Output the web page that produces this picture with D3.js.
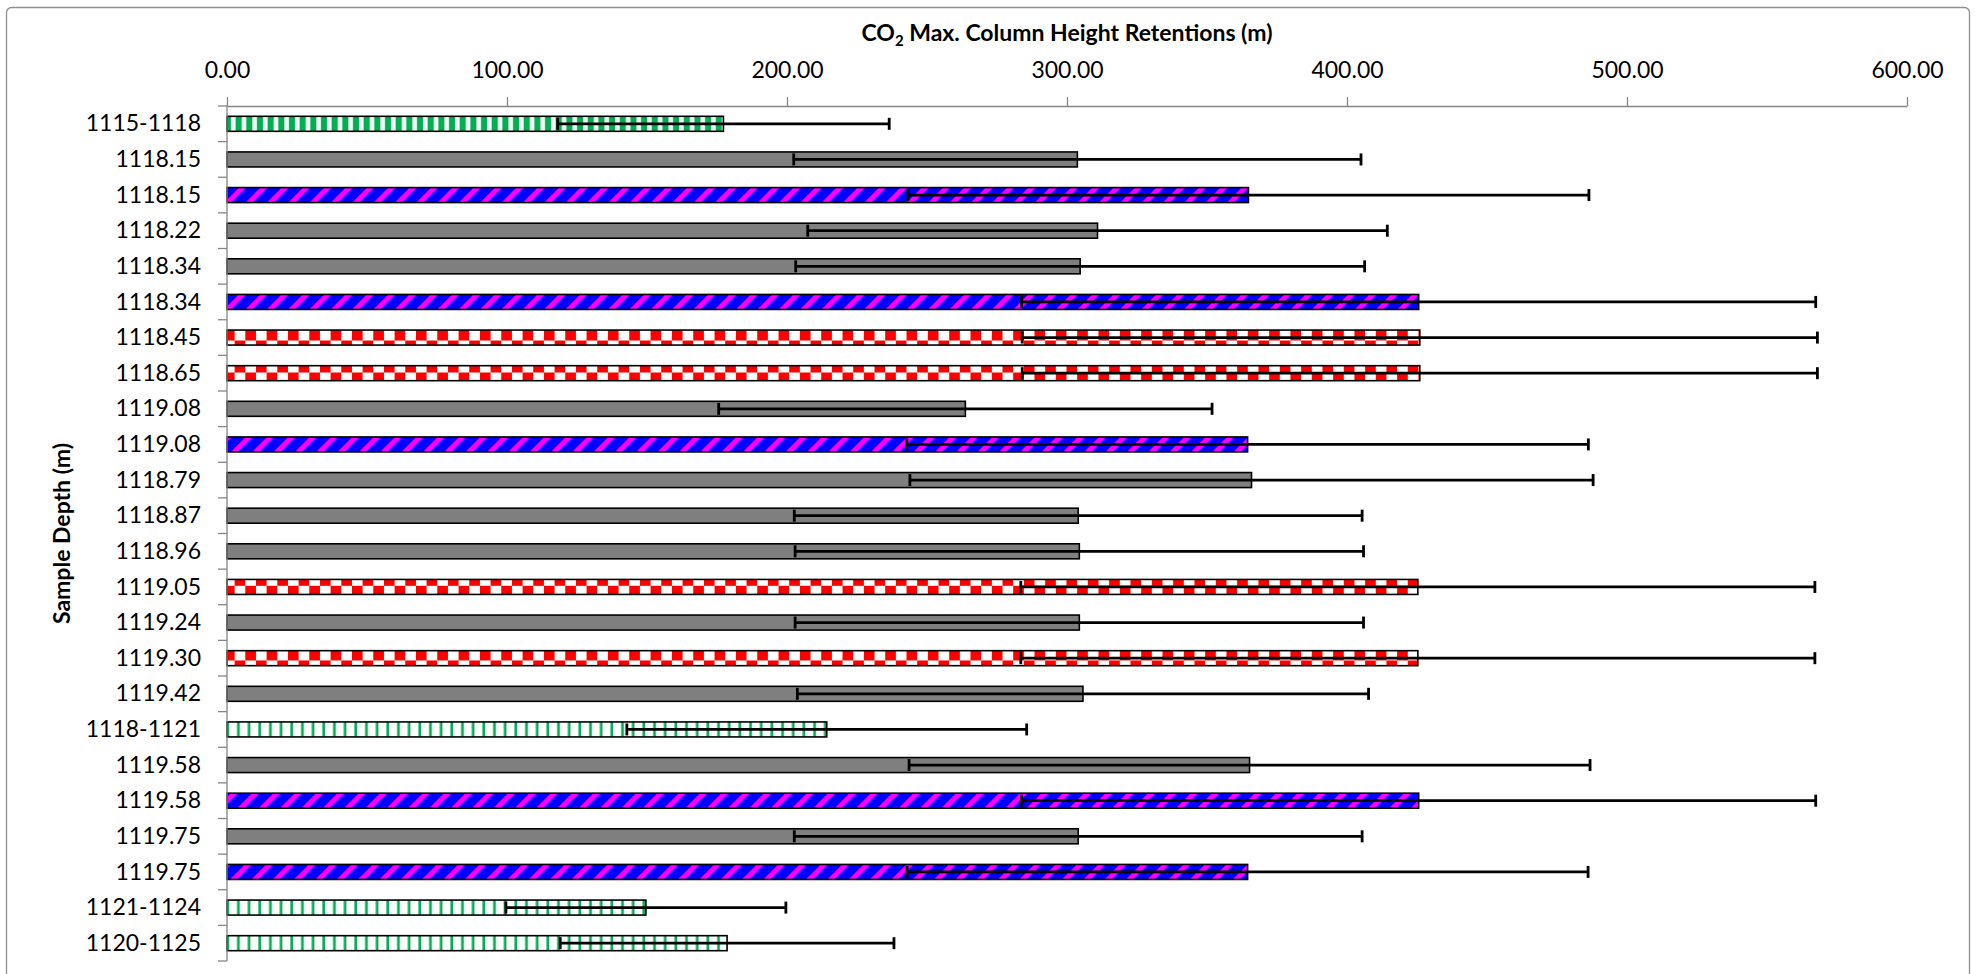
<!DOCTYPE html>
<html>
<head>
<meta charset="utf-8">
<script src="https://cdn.jsdelivr.net/npm/d3@7/dist/d3.min.js"></script>
<style>
  body { margin: 0; background: #fff; }
  svg { display: block; font-family: Lato, "Open Sans", sans-serif; }
  .axis-gray { stroke: #868686; stroke-width: 1.3; }
</style>
</head>
<body>
<svg id="chart" width="1977" height="974"></svg>
<script>
// sample depths (top to bottom), as labelled on the chart
const depths = ["1115-1118", "1118.15", "1118.15", "1118.22", "1118.34", "1118.34",
    "1118.45", "1118.65", "1119.08", "1119.08", "1118.79", "1118.87", "1118.96",
    "1119.05", "1119.24", "1119.30", "1119.42", "1118-1121", "1119.58", "1119.58",
    "1119.75", "1119.75", "1121-1124", "1120-1125"];

// max CO2 column height (m)
const heights = [177.3, 303.7, 364.8, 310.9, 304.7, 425.6, 426.0, 426.0, 263.7, 364.5,
    365.9, 304.0, 304.4, 425.3, 304.4, 425.3, 305.7, 214.2, 365.2, 425.6,
    304.0, 364.5, 149.6, 178.6];

// +/- error (m)
const errors = [59.2, 101.3, 121.6, 103.5, 101.6, 141.8, 142.0, 142.0, 88.1, 121.7,
    122.0, 101.4, 101.5, 141.8, 101.5, 141.8, 102.0, 71.4, 121.6, 141.8,
    101.4, 121.6, 50.0, 59.6];

// sample group of each bar
const sampleType = ["seal", "mud", "silt", "mud", "mud", "silt", "shale", "shale", "mud", "silt",
    "mud", "mud", "mud", "shale", "mud", "shale", "mud", "core", "mud", "silt",
    "mud", "silt", "core", "core"];

const xTicks = [0, 100, 200, 300, 400, 500, 600];

const svg = d3.select("#chart");
const W = 1977, H = 974;
const plot = { left: 227, right: 1907, top: 106, bottom: 961 };

// frame
svg.append("rect")
    .attr("x", 6.5).attr("y", 7.5)
    .attr("width", W - 14).attr("height", H + 20)
    .attr("rx", 5)
    .attr("fill", "none")
    .attr("stroke", "#8e8e8e")
    .attr("stroke-width", 1.3);

// ---- patterns ----
const defs = svg.append("defs");

function pat(id, w, h) {
    return defs.append("pattern")
        .attr("id", id)
        .attr("patternUnits", "userSpaceOnUse")
        .attr("width", w).attr("height", h);
}

let p = pat("greenDark", 10.67, 10.67);
p.append("rect").attr("width", 10.67).attr("height", 10.67).attr("fill", "#fff");
p.append("rect").attr("x", 0.8).attr("width", 6.2).attr("height", 10.67).attr("fill", "#00b050");

p = pat("greenLight", 10.67, 10.67);
p.append("rect").attr("width", 10.67).attr("height", 10.67).attr("fill", "#fff");
p.append("rect").attr("x", 2.3).attr("width", 2.7).attr("height", 10.67).attr("fill", "#00b050");

p = pat("redCheck", 21.33, 21.33).attr("y", 9.9);
p.append("rect").attr("width", 21.33).attr("height", 21.33).attr("fill", "#fff");
p.append("rect").attr("x", 10.67).attr("y", 0).attr("width", 10.67).attr("height", 10.67).attr("fill", "#ff0000");
p.append("rect").attr("x", 0).attr("y", 10.67).attr("width", 10.67).attr("height", 10.67).attr("fill", "#ff0000");

p = pat("blueDiag", 15.085, 15.085).attr("patternTransform", "rotate(45)");
p.append("rect").attr("width", 15.085).attr("height", 15.085).attr("fill", "#0000ff");
p.append("rect").attr("width", 5.2).attr("height", 15.085).attr("fill", "#ff00ff");

const fillFor = {
    seal: "url(#greenDark)",
    core: "url(#greenLight)",
    shale: "url(#redCheck)",
    silt: "url(#blueDiag)",
    mud: "#7f7f7f"
};

// ---- scales ----
const x = d3.scaleLinear().domain([0, 600]).range([plot.left, plot.right]);
const y = d3.scaleBand()
    .domain(d3.range(depths.length))
    .range([plot.top, plot.bottom])
    .paddingInner(0.579)
    .paddingOuter(0.2895);
const bw = y.bandwidth();

// ---- bars ----
svg.append("g").selectAll("rect")
    .data(d3.range(depths.length))
    .join("rect")
    .attr("x", x(0))
    .attr("y", i => y(i))
    .attr("width", i => x(heights[i]) - x(0))
    .attr("height", bw)
    .attr("fill", i => fillFor[sampleType[i]])
    .attr("stroke", "#000")
    .attr("stroke-width", 1.6);

// ---- error bars ----
const eb = svg.append("g").attr("stroke", "#000").attr("stroke-width", 2.8);
d3.range(depths.length).forEach(i => {
    const cy = y(i) + bw / 2;
    const x0 = x(heights[i] - errors[i]);
    const x1 = x(heights[i] + errors[i]);
    eb.append("line").attr("x1", x0).attr("x2", x1).attr("y1", cy).attr("y2", cy);
    [x0, x1].forEach(cx => {
        eb.append("line").attr("x1", cx).attr("x2", cx).attr("y1", cy - 6).attr("y2", cy + 6);
    });
});

// ---- x axis (top) ----
const xAxis = d3.axisTop(x)
    .tickValues(xTicks)
    .tickFormat(d3.format(".2f"))
    .tickSize(9)
    .tickSizeOuter(0)
    .tickPadding(19);

const gx = svg.append("g")
    .attr("transform", `translate(0,${plot.top})`)
    .call(xAxis);
gx.attr("font-family", null).attr("font-size", null);
gx.select(".domain").attr("class", "domain axis-gray");
gx.selectAll(".tick line").attr("class", "axis-gray");
gx.selectAll(".tick text").attr("fill", "#000").style("font-size", "23px");

// ---- y axis (left) ----
const gy = svg.append("g");
gy.append("line").attr("class", "axis-gray")
    .attr("x1", plot.left).attr("x2", plot.left)
    .attr("y1", plot.top - 0.6).attr("y2", plot.bottom);
gy.selectAll("line.tk")
    .data(d3.range(depths.length + 1))
    .join("line")
    .attr("class", "tk axis-gray")
    .attr("x1", plot.left - 9).attr("x2", plot.left)
    .attr("y1", k => plot.top + k * y.step())
    .attr("y2", k => plot.top + k * y.step());
gy.selectAll("text")
    .data(d3.range(depths.length))
    .join("text")
    .attr("x", 201)
    .attr("y", i => y(i) + bw / 2)
    .attr("dy", "0.33em")
    .attr("text-anchor", "end")
    .style("font-size", "23px")
    .text(i => depths[i]);

// ---- titles ----
const title = svg.append("text")
    .attr("x", (plot.left + plot.right) / 2)
    .attr("y", 41)
    .attr("text-anchor", "middle")
    .style("font-size", "23px")
    .style("font-weight", "bold");
title.append("tspan").text("CO");
title.append("tspan").attr("dy", 5).style("font-size", "15px").text("2");
title.append("tspan").attr("dy", -5).text(" Max. Column Height Retentions (m)");

svg.append("text")
    .attr("transform", `translate(70,${(plot.top + plot.bottom) / 2}) rotate(-90)`)
    .attr("text-anchor", "middle")
    .style("font-size", "23px")
    .style("font-weight", "bold")
    .text("Sample Depth (m)");
</script>
</body>
</html>
